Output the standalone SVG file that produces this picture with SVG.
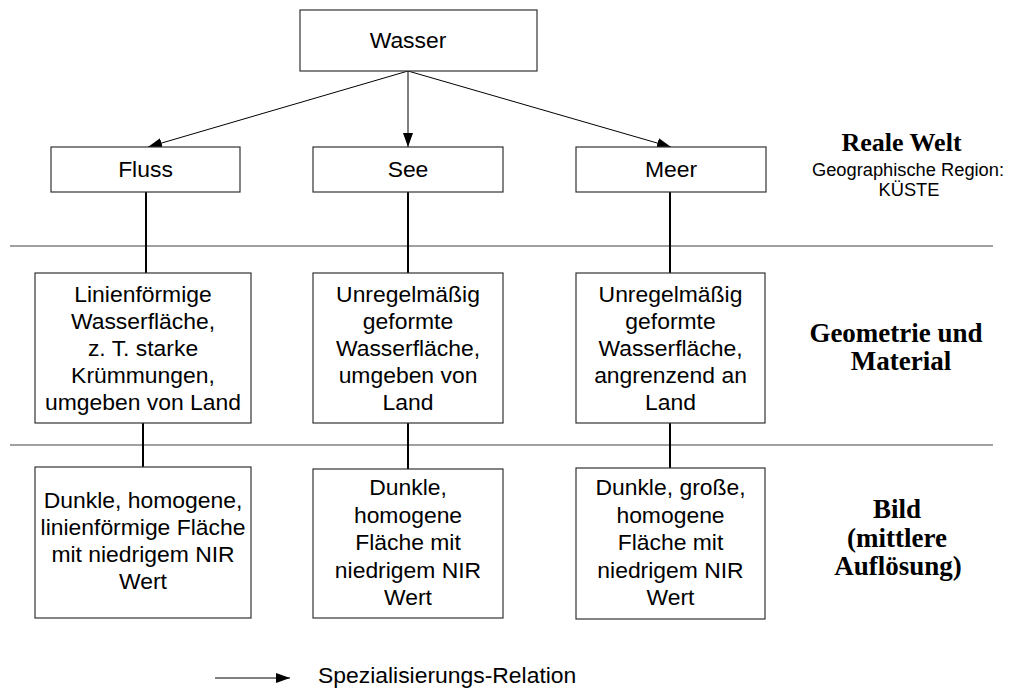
<svg xmlns="http://www.w3.org/2000/svg" width="1012" height="688" viewBox="0 0 1012 688">
<defs>
<style>
.box{fill:#fff;stroke:#333;stroke-width:1.2}
.t{font-family:"Liberation Sans",Arial,sans-serif;font-size:22.9px;fill:#000;text-anchor:middle}
.s{font-family:"Liberation Sans",Arial,sans-serif;font-size:18.3px;fill:#000;text-anchor:middle}
.b{font-family:"Liberation Serif","Times New Roman",serif;font-size:27px;font-weight:bold;fill:#000;text-anchor:middle}
.sep{stroke:#808080;stroke-width:1.5}
.arr{stroke:#000;stroke-width:1;fill:none;marker-end:url(#ah)}
.con{stroke:#000;stroke-width:2;fill:none}
</style>
<marker id="ah" viewBox="0 0 14 10" refX="14" refY="5" markerWidth="14" markerHeight="10" markerUnits="userSpaceOnUse" orient="auto">
<path d="M0,0 L14,5 L0,10 Z" fill="#000"/>
</marker>
</defs>
<rect width="1012" height="688" fill="#fff"/>
<g id="separators">
<line class="sep" x1="10" y1="246" x2="993" y2="246"/>
<line class="sep" x1="10" y1="445" x2="993" y2="445"/>
</g>
<g id="connectors">
<line class="arr" x1="408" y1="71" x2="148" y2="147"/>
<line class="arr" x1="408" y1="71" x2="408" y2="147"/>
<line class="arr" x1="408" y1="71" x2="671" y2="147"/>
<line class="con" x1="146" y1="192" x2="146" y2="273"/>
<line class="con" x1="408" y1="192" x2="408" y2="273"/>
<line class="con" x1="670" y1="192" x2="670" y2="273"/>
<line class="con" x1="143" y1="423" x2="143" y2="467"/>
<line class="con" x1="408" y1="423" x2="408" y2="469"/>
<line class="con" x1="670" y1="423" x2="670" y2="468"/>
</g>
<g id="wasser">
<rect class="box" x="300" y="10" width="237" height="61"/>
<text class="t" x="408" y="48">Wasser</text>
</g>
<g id="fluss">
<rect class="box" x="51" y="147" width="189" height="45"/>
<text class="t" x="145.5" y="177">Fluss</text>
</g>
<g id="see">
<rect class="box" x="313" y="147" width="190" height="45"/>
<text class="t" x="408" y="177">See</text>
</g>
<g id="meer">
<rect class="box" x="576" y="147" width="190" height="45"/>
<text class="t" x="671" y="177">Meer</text>
</g>
<g id="fluss-geo">
<rect class="box" x="35" y="273" width="216" height="150"/>
<text class="t" x="143" y="302">Linienförmige</text>
<text class="t" x="143" y="329">Wasserfläche,</text>
<text class="t" x="143" y="356">z. T. starke</text>
<text class="t" x="143" y="383">Krümmungen,</text>
<text class="t" x="143" y="410">umgeben von Land</text>
</g>
<g id="see-geo">
<rect class="box" x="313" y="273" width="190" height="150"/>
<text class="t" x="408" y="302">Unregelmäßig</text>
<text class="t" x="408" y="329">geformte</text>
<text class="t" x="408" y="356">Wasserfläche,</text>
<text class="t" x="408" y="383">umgeben von</text>
<text class="t" x="408" y="410">Land</text>
</g>
<g id="meer-geo">
<rect class="box" x="576" y="273" width="189" height="150"/>
<text class="t" x="670.5" y="302">Unregelmäßig</text>
<text class="t" x="670.5" y="329">geformte</text>
<text class="t" x="670.5" y="356">Wasserfläche,</text>
<text class="t" x="670.5" y="383">angrenzend an</text>
<text class="t" x="670.5" y="410">Land</text>
</g>
<g id="fluss-bild">
<rect class="box" x="35" y="467" width="216" height="151"/>
<text class="t" x="143" y="508">Dunkle, homogene,</text>
<text class="t" x="143" y="535">linienförmige Fläche</text>
<text class="t" x="143" y="562">mit niedrigem NIR</text>
<text class="t" x="143" y="589">Wert</text>
</g>
<g id="see-bild">
<rect class="box" x="313" y="469" width="190" height="149"/>
<text class="t" x="408" y="495">Dunkle,</text>
<text class="t" x="408" y="522.5">homogene</text>
<text class="t" x="408" y="550">Fläche mit</text>
<text class="t" x="408" y="577.5">niedrigem NIR</text>
<text class="t" x="408" y="605">Wert</text>
</g>
<g id="meer-bild">
<rect class="box" x="576" y="468" width="189" height="151"/>
<text class="t" x="670.5" y="495">Dunkle, große,</text>
<text class="t" x="670.5" y="522.5">homogene</text>
<text class="t" x="670.5" y="550">Fläche mit</text>
<text class="t" x="670.5" y="577.5">niedrigem NIR</text>
<text class="t" x="670.5" y="605">Wert</text>
</g>
<g id="label-reale-welt">
<text class="b" x="901.5" y="151" style="font-size:26px">Reale Welt</text>
<text class="s" x="908" y="176">Geographische Region:</text>
<text class="s" x="909" y="196">KÜSTE</text>
</g>
<g id="label-geometrie">
<text class="b" x="896" y="342">Geometrie und</text>
<text class="b" x="901" y="370">Material</text>
</g>
<g id="label-bild">
<text class="b" x="897" y="518">Bild</text>
<text class="b" x="897" y="547">(mittlere</text>
<text class="b" x="898" y="575">Auflösung)</text>
</g>
<g id="legend">
<line class="arr" x1="215" y1="678" x2="290" y2="678"/>
<text class="t" x="318" y="683" style="text-anchor:start">Spezialisierungs-Relation</text>
</g>
</svg>
